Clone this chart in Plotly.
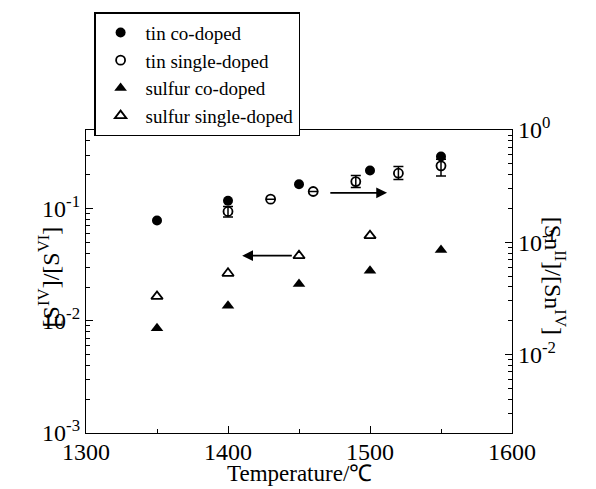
import plotly.graph_objects as go

# ---- data ----
tin_co_T = [1350, 1400, 1450, 1500, 1550]
tin_co_ratio = [0.156, 0.234, 0.329, 0.435, 0.58]

tin_single_T = [1400, 1430, 1460, 1490, 1520, 1550]
tin_single_ratio = [0.188, 0.242, 0.283, 0.347, 0.412, 0.479]
tin_single_err_plus = [0.02, 0, 0, 0.046, 0.06, 0.07]
tin_single_err_minus = [0.02, 0, 0, 0.039, 0.05, 0.09]

sulfur_co_T = [1350, 1400, 1450, 1500, 1550]
sulfur_co_ratio = [0.0086, 0.0136, 0.0213, 0.0279, 0.0428]

sulfur_single_T = [1350, 1400, 1450, 1500]
sulfur_single_ratio = [0.0165, 0.0265, 0.038, 0.0574]

x_ticks = [1300, 1400, 1500, 1600]
left_major = [1e-3, 1e-2, 1e-1]
left_labels = ["10<sup>-3</sup>", "10<sup>-2</sup>", "10<sup>-1</sup>"]
right_major = [1e-2, 1e-1, 1e0]
right_labels = ["10<sup>-2</sup>", "10<sup>-1</sup>", "10<sup>0</sup>"]

FONT = "Liberation Serif"


def minor_vals(emin, emax):
    return [m * 10 ** e for e in range(emin, emax) for m in range(2, 10)]


fig = go.Figure()

fig.add_trace(go.Scatter(
    x=tin_co_T, y=tin_co_ratio, mode="markers", name="tin co-doped",
    yaxis="y2",
    marker=dict(symbol="circle", size=10, color="black"),
))
fig.add_trace(go.Scatter(
    x=tin_single_T, y=tin_single_ratio, mode="markers", name="tin single-doped",
    yaxis="y2",
    marker=dict(symbol="circle-open", size=9, color="black", line=dict(width=1.8)),
    error_y=dict(type="data", symmetric=False, array=tin_single_err_plus,
                 arrayminus=tin_single_err_minus, color="black",
                 thickness=1.5, width=5),
))
fig.add_trace(go.Scatter(
    x=sulfur_co_T, y=sulfur_co_ratio, mode="markers", name="sulfur co-doped",
    yaxis="y",
    marker=dict(symbol="triangle-up", size=11, color="black"),
))
fig.add_trace(go.Scatter(
    x=sulfur_single_T, y=sulfur_single_ratio, mode="markers",
    name="sulfur single-doped", yaxis="y",
    marker=dict(symbol="triangle-up-open", size=10, color="black",
                line=dict(width=1.8)),
))

axis_common = dict(
    showline=True, linecolor="black", linewidth=1.3,
    ticks="inside", ticklen=7, tickwidth=1, tickcolor="black",
    showgrid=False, zeroline=False,
    tickfont=dict(family=FONT, size=24, color="black"),
)

# page body has an 8px default margin, so the figure is 8px smaller
fig.update_layout(
    width=588, height=481,
    margin=dict(l=78, r=84, t=122, b=56, autoexpand=False),
    paper_bgcolor="white", plot_bgcolor="white",
    font=dict(family=FONT, color="black"),
    showlegend=True,
    legend=dict(
        x=0.019, y=1.389, xanchor="left", yanchor="top",
        bordercolor="black", borderwidth=1.5, bgcolor="white",
        font=dict(family=FONT, size=19, color="black"),
        tracegroupgap=0, itemwidth=40,
    ),
    xaxis=dict(
        **axis_common,
        range=[1300, 1600], tickmode="array", tickvals=x_ticks,
        mirror=True, ticklabelstandoff=-3,
        minor=dict(ticks="inside", ticklen=4, tickcolor="black", dtick=50),
    ),
    yaxis=dict(
        **axis_common,
        type="log", range=[-3, -0.30],
        tickmode="array", tickvals=left_major, ticktext=left_labels,
        minor=dict(ticks="inside", ticklen=4, tickcolor="black",
                   tickvals=minor_vals(-3, 0)),
    ),
    yaxis2=dict(
        **axis_common,
        type="log", range=[-2.70, 0], overlaying="y", side="right",
        tickmode="array", tickvals=right_major, ticktext=right_labels,
        minor=dict(ticks="inside", ticklen=4, tickcolor="black",
                   tickvals=minor_vals(-3, 0)),
    ),
    annotations=[
        dict(text="Temperature/℃", xref="paper", yref="paper",
             x=0.5, y=-0.135, yanchor="middle", showarrow=False,
             font=dict(family=FONT, size=23)),
        dict(text="[S<sup>IV</sup>]/[S<sup>VI</sup>]", xref="paper", yref="paper",
             x=-0.128, y=0.515, textangle=-90, showarrow=False,
             font=dict(family=FONT, size=24)),
        dict(text="[Sn<sup>II</sup>]/[Sn<sup>IV</sup>]", xref="paper", yref="paper",
             x=1.14, y=0.52, textangle=90, showarrow=False,
             font=dict(family=FONT, size=24)),
        # arrow pointing to right axis (tin)
        dict(x=1512, y=-0.56, ax=1471, ay=-0.56, xref="x", yref="y2",
             axref="x", ayref="y2", text="", showarrow=True,
             arrowhead=2, arrowsize=1.2, arrowwidth=1.8, arrowcolor="black"),
        # arrow pointing to left axis (sulfur)
        dict(x=1410, y=-1.42, ax=1446, ay=-1.42, xref="x", yref="y",
             axref="x", ayref="y", text="", showarrow=True,
             arrowhead=2, arrowsize=1.2, arrowwidth=1.8, arrowcolor="black"),
    ],
)

fig.write_html("out.html")
